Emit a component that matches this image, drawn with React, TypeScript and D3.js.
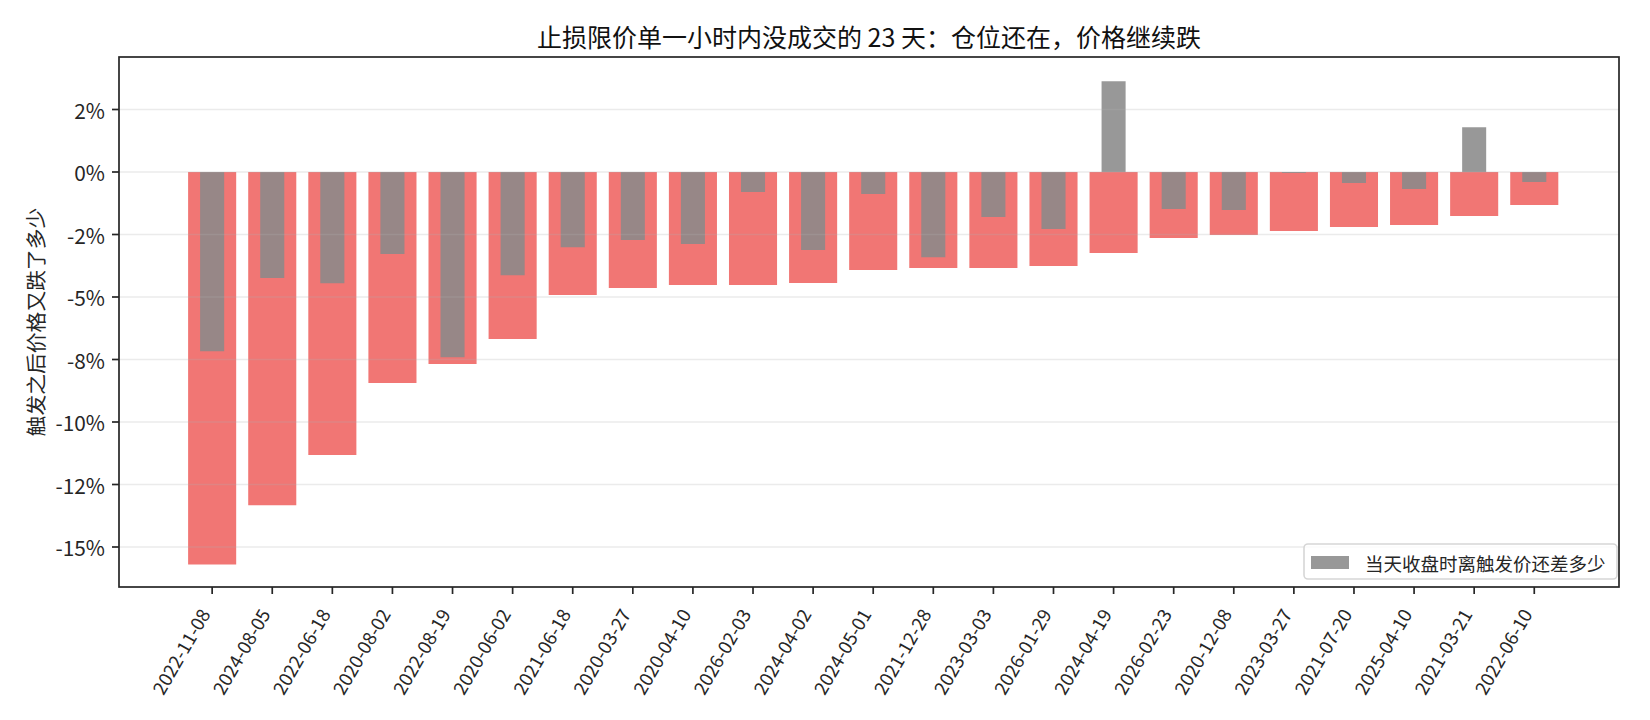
import React from 'react';
import { scaleLinear } from 'd3';

const title = '止损限价单一小时内没成交的 23 天：仓位还在，价格继续跌';
const yLabel = '触发之后价格又跌了多少';
const legendLabel = '当天收盘时离触发价还差多少';

const dates = [
  '2022-11-08', '2024-08-05', '2022-06-18', '2020-08-02', '2022-08-19', '2020-06-02',
  '2021-06-18', '2020-03-27', '2020-04-10', '2026-02-03', '2024-04-02', '2024-05-01',
  '2021-12-28', '2023-03-03', '2026-01-29', '2024-04-19', '2026-02-23', '2020-12-08',
  '2023-03-27', '2021-07-20', '2025-04-10', '2021-03-21', '2022-06-10',
];

// how far price fell after the trigger (%)
const fallAfter = [
  -15.7, -13.33, -11.32, -8.44, -7.68, -6.68, -4.92, -4.64, -4.52, -4.52, -4.44, -3.92,
  -3.84, -3.84, -3.76, -3.24, -2.64, -2.52, -2.36, -2.2, -2.12, -1.76, -1.32,
];

// close of that day vs trigger price (%)
const closeGap = [
  -7.17, -4.24, -4.45, -3.28, -7.41, -4.13, -3.01, -2.72, -2.88, -0.8, -3.12, -0.88,
  -3.41, -1.8, -2.28, 3.63, -1.48, -1.52, -0.04, -0.44, -0.68, 1.79, -0.4,
];

const yTickValues = [2.5, 0, -2.5, -5, -7.5, -10, -12.5, -15];
const yTickLabels = ['2%', '0%', '-2%', '-5%', '-8%', '-10%', '-12%', '-15%'];

const W = 1650;
const H = 720;
const left = 119;
const right = 1619;
const top = 57;
const bottom = 587;
const font = '"Noto Sans CJK SC", "Noto Sans", sans-serif';
const ink = '#262626';

function App() {
  const x = scaleLinear().domain([-1.55, dates.length - 1 + 1.41]).range([left, right]);
  const y = scaleLinear().domain([4.6, -16.6]).range([top, bottom]);
  const unit = x(1) - x(0);
  const redW = unit * 0.8;
  const grayW = unit * 0.4;

  return (
    <div style={{ position: 'absolute', left: 0, top: 0 }}>
      <svg width={W} height={H} style={{ display: 'block', background: '#fff' }} fontFamily={font}>
        {/* red bars */}
        {fallAfter.map((v, i) => (
          <rect key={'r' + i} x={x(i) - redW / 2} y={y(0)} width={redW}
            height={y(v) - y(0)} fill="#f17674" />
        ))}
        {/* gray bars */}
        {closeGap.map((v, i) => (
          <rect key={'g' + i} x={x(i) - grayW / 2} y={Math.min(y(0), y(v))} width={grayW}
            height={Math.abs(y(v) - y(0))} fill="#8a8a8a" fillOpacity={0.88} />
        ))}
        {/* grid */}
        {yTickValues.map((t) => (
          <line key={'gl' + t} x1={left} x2={right} y1={y(t)} y2={y(t)}
            stroke="#b0b0b0" strokeOpacity={0.25} strokeWidth={1.6} />
        ))}
        {/* frame */}
        <rect x={left} y={top} width={right - left} height={bottom - top}
          fill="none" stroke={ink} strokeWidth={1.7} />
        {/* y ticks */}
        {yTickValues.map((t, i) => (
          <g key={'yt' + t}>
            <line x1={left - 7} x2={left} y1={y(t)} y2={y(t)} stroke={ink} strokeWidth={1.7} />
            <text x={left - 14} y={y(t)} textAnchor="end" dominantBaseline="central"
              fontSize={20.8} fill={ink}>{yTickLabels[i]}</text>
          </g>
        ))}
        {/* x ticks */}
        {dates.map((d, i) => (
          <g key={'xt' + d + i}>
            <line x1={x(i)} x2={x(i)} y1={bottom} y2={bottom + 7} stroke={ink} strokeWidth={1.7} />
            <text transform={`translate(${x(i) - 8},${bottom + 23}) rotate(-60)`}
              textAnchor="end" dominantBaseline="central" fontSize={18.5} fill={ink}>{d}</text>
          </g>
        ))}
        {/* y label */}
        <text transform={`translate(35,${(top + bottom) / 2}) rotate(-90)`} textAnchor="middle"
          dominantBaseline="central" fontSize={20.8} fill={ink}>{yLabel}</text>
        {/* title */}
        <text x={(left + right) / 2} y={47} textAnchor="middle" fontSize={25} fill="#111">{title}</text>
        {/* legend */}
        <g>
          <rect x={1304} y={544} width={313} height={35} rx={4} fill="#fff" fillOpacity={0.8}
            stroke="#d6d6d6" strokeWidth={1.6} />
          <rect x={1311} y={556} width={38} height={13} fill="#8a8a8a" fillOpacity={0.88} />
          <text x={1365} y={562.5} dominantBaseline="central" fontSize={18.5} fill={ink}>{legendLabel}</text>
        </g>
      </svg>
    </div>
  );
}

export default App;
